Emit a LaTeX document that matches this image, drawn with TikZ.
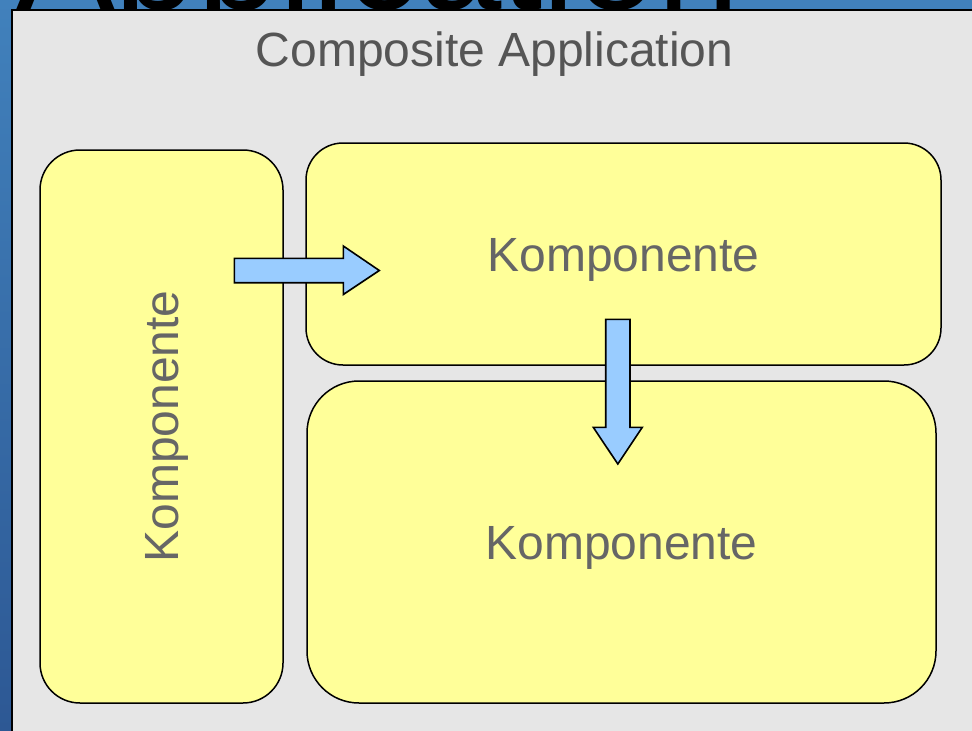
\documentclass[tikz,border=0pt]{standalone}
\usepackage{fontspec}
\setmainfont{Liberation Sans}
\definecolor{bgtop}{RGB}{65,129,188}
\definecolor{bgbot}{RGB}{45,88,148}
\definecolor{panel}{RGB}{230,230,230}
\definecolor{compfill}{RGB}{255,255,153}
\definecolor{arrowfill}{RGB}{153,204,255}
\definecolor{titlegrey}{RGB}{85,85,85}
\definecolor{textgrey}{RGB}{102,102,102}
\tikzset{
  compbox/.style={draw=black, line width=1.5pt, fill=compfill, inner sep=0pt,
    text=textgrey, font=\fontsize{48}{48}\selectfont,
    text height=34.4pt, text depth=0pt},
  blockarrow/.style={draw=black, line width=1.6pt, fill=arrowfill, line join=miter},
}
\begin{document}
\begin{tikzpicture}[x=1pt,y=-1pt]
\useasboundingbox (0,0) rectangle (972,731);
\clip (0,0) rectangle (972,731);
% blue background
\shade[top color=bgtop, bottom color=bgbot] (0,0) rectangle (972,731);
% large cut-off heading
\node[anchor=base west, inner sep=0pt, text=black,
      font=\fontsize{148}{148}\selectfont] (heading) at (16,9) {Application};
% grey panel
\draw[fill=panel, line width=2pt] (12,10) rectangle (995,760);
% title
\node[anchor=base, inner sep=0pt, text=titlegrey,
      font=\fontsize{48}{48}\selectfont] (title) at (494.5,66) {Composite Application};
% components
\node[compbox, rounded corners=40pt, rotate=90,
      minimum width=553pt, minimum height=243pt] (left) at (161.5,426.5) {Komponente};
\node[compbox, rounded corners=37pt,
      minimum width=635pt, minimum height=222pt] (top) at (623.5,254) {Komponente};
\node[compbox, rounded corners=52pt,
      minimum width=629pt, minimum height=322pt] (bottom) at (621.5,542) {Komponente};
% arrows
\draw[blockarrow] (234.3,258.3) -- (343.3,258.3) -- (343.3,246) -- (379.3,270.5)
   -- (343.3,294.5) -- (343.3,282.7) -- (234.3,282.7) -- cycle;
\draw[blockarrow] (605.7,319.3) -- (630,319.3) -- (630,427.3) -- (642.3,427.3)
   -- (617.8,464) -- (593.3,427.3) -- (605.7,427.3) -- cycle;
\end{tikzpicture}
\end{document}
